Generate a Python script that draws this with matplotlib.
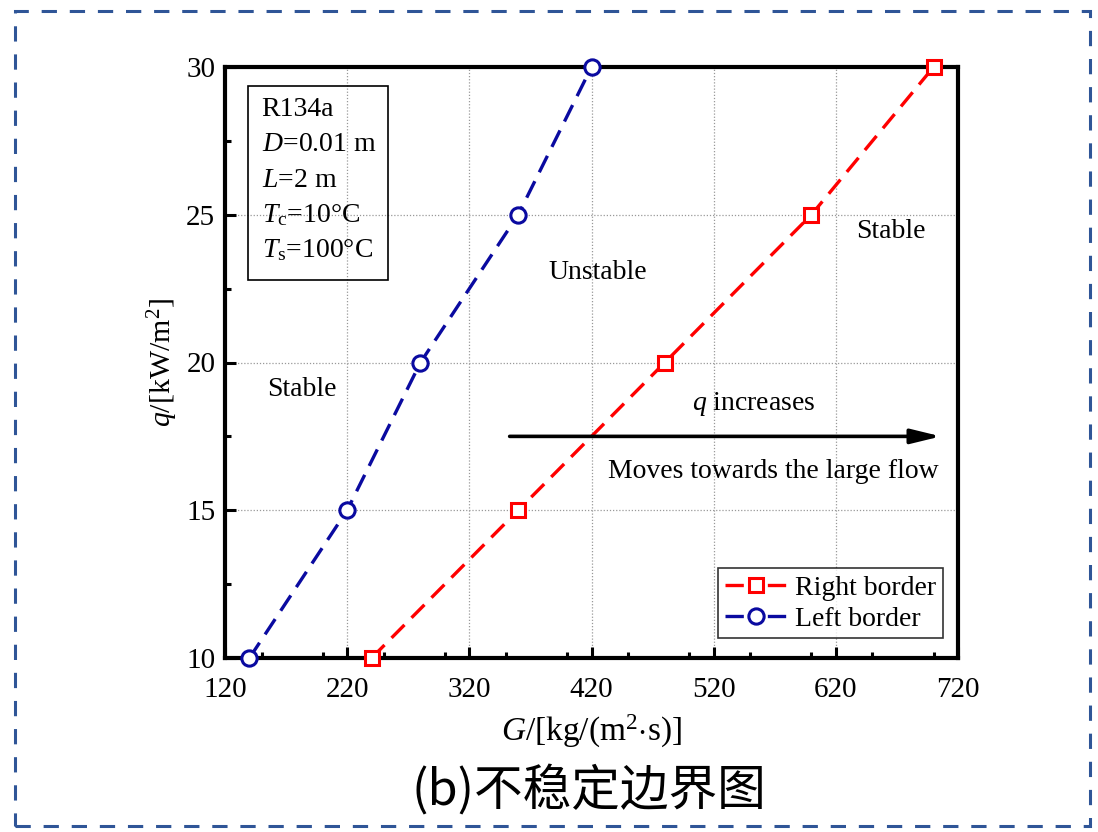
import matplotlib
matplotlib.use("Agg")
import matplotlib.pyplot as plt
from matplotlib.patches import Rectangle
from matplotlib.ticker import MultipleLocator

# Mass flux G [kg/(m2 s)] at each heat flux q [kW/m2] on the instability boundaries
q_levels = [10, 15, 20, 25, 30]
g_left = [140, 220, 280, 360, 420]
g_right = [240, 360, 480, 600, 700]

x_ticks = [120, 220, 320, 420, 520, 620, 720]
y_ticks = [10, 15, 20, 25, 30]

serif = "Liberation Serif"
plt.rcParams["font.family"] = serif
plt.rcParams["mathtext.fontset"] = "custom"
plt.rcParams["mathtext.rm"] = serif
plt.rcParams["mathtext.it"] = serif + ":italic"

fig = plt.figure(figsize=(10.98, 8.32), dpi=100)
ax = fig.add_axes([225 / 1098, 1 - 658 / 832, 733 / 1098, 591 / 832])

dash = (0, (5.5, 3))
ax.plot(g_right, q_levels, color="#ff0000", ls=dash, lw=2.4,
        marker="s", ms=10, mfc="white", mec="#ff0000", mew=2.2,
        label="Right border", clip_on=False, zorder=3)
ax.plot(g_left, q_levels, color="#0a0aa0", ls=dash, lw=2.4,
        marker="o", ms=11, mfc="white", mec="#0a0aa0", mew=2.2,
        label="Left border", clip_on=False, zorder=3)

ax.set_xlim(120, 720)
ax.set_ylim(10, 30)
ax.set_xticks(x_ticks)
ax.set_yticks(y_ticks)
ax.xaxis.set_minor_locator(MultipleLocator(50))
ax.yaxis.set_minor_locator(MultipleLocator(2.5))
ax.tick_params(which="major", direction="in", length=8, width=2.2,
               labelsize=21, top=False, right=False)
ax.tick_params(which="minor", direction="in", length=4, width=2.2,
               top=False, right=False)
ax.tick_params(axis="x", which="major", pad=14)
ax.tick_params(axis="y", which="major", pad=7)
ax.grid(True, which="major", ls=(0, (1, 1.5)), color="#999999", lw=0.9)
for s in ax.spines.values():
    s.set_linewidth(3)

ax.set_xlabel(r"$G$/[kg/(m$^2$$\cdot$s)]", fontsize=24, labelpad=7)
ax.set_ylabel(r"$q$/[kW/m$^2$]", fontsize=21.5, labelpad=4)

# Condition box
ax.add_patch(Rectangle((138.8, 22.79), 114.6, 6.57, transform=ax.transData,
                       fill=False, lw=1.2, ec="black", zorder=4))
info = [r"R134a", r"$D$=0.01 m", r"$L$=2 m", r"$T_{\rm c}$=10°C", r"$T_{\rm s}$=100°C"]
for i, t in enumerate(info):
    ax.text(150, 28.35 - i * 1.2, t, fontsize=20, va="baseline", ha="left", zorder=5)

ax.text(425, 23.05, "Unstable", fontsize=20, ha="center", va="center")
ax.text(183, 19.1, "Stable", fontsize=20, ha="center", va="center")
ax.text(665, 24.45, "Stable", fontsize=20, ha="center", va="center")
ax.text(553, 18.6, r"$q$ increases", fontsize=20, ha="center", va="center")
ax.text(569, 16.3, "Moves towards the large flow", fontsize=20,
        ha="center", va="center")
ax.annotate("", xy=(706, 17.5), xytext=(353, 17.5),
            arrowprops=dict(arrowstyle="-|>,head_length=0.9,head_width=0.22",
                            color="black", lw=2.6,
                            mutation_scale=20, shrinkA=0, shrinkB=0))

leg = ax.legend(loc="lower right", bbox_to_anchor=(0.979, 0.033), fontsize=20,
                frameon=True, fancybox=False, edgecolor="black",
                handlelength=2.2, handletextpad=0.3, borderpad=0.25,
                labelspacing=0.2, borderaxespad=0)
leg.get_frame().set_linewidth(1.2)
# dash - marker - dash in the legend keys
for hl in leg.get_lines():
    hl.set_linestyle((0, (5.5, 7.2)))

fig.text(589 / 1098, 1 - 790 / 832, "(b)不稳定边界图", fontsize=35,
         ha="center", va="center", family=["Noto Sans CJK SC", "DejaVu Sans"])

# Dashed frame around the whole figure
fig.add_artist(Rectangle((15 / 1098, 1 - 826 / 832), 1075 / 1098, 815 / 832,
                         transform=fig.transFigure, fill=False,
                         ec="#2f5597", lw=2.2, ls=(0, (5, 4.2))))

fig.savefig("out.png", dpi=100)
